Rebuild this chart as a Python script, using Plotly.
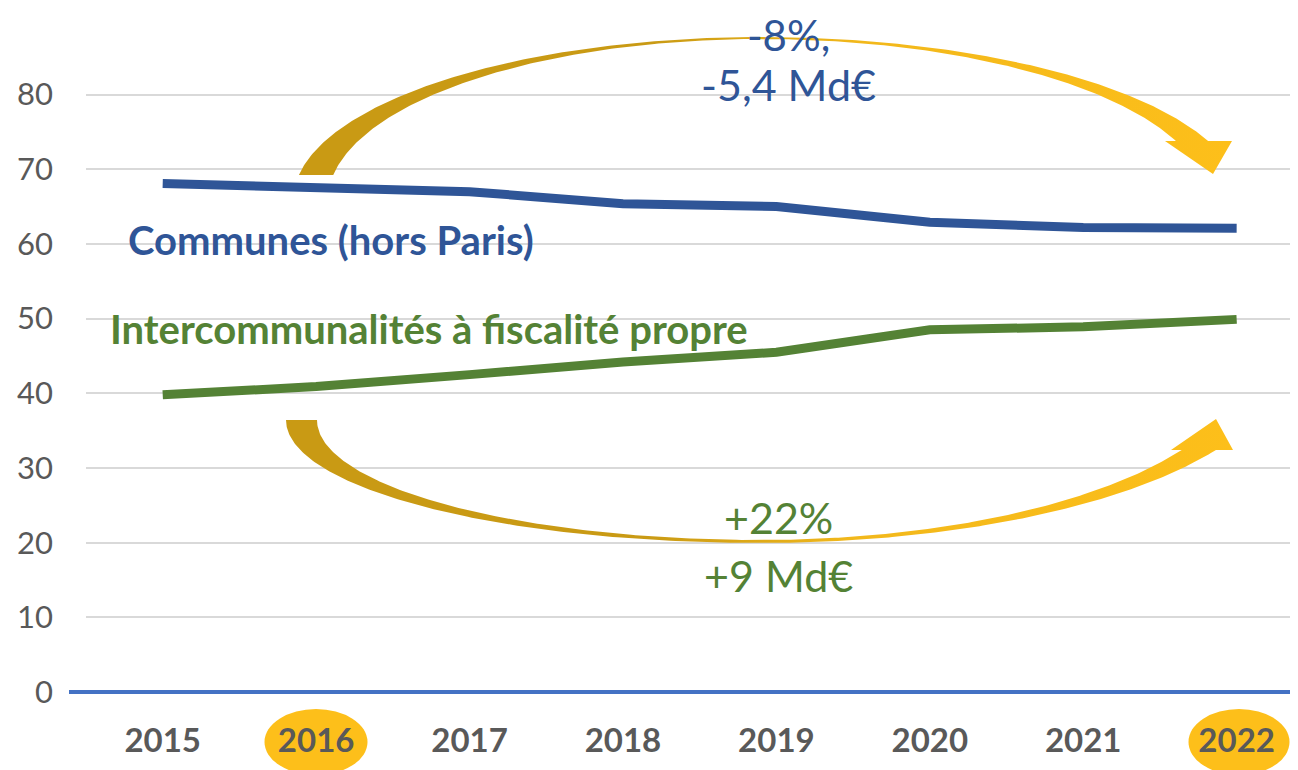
import numpy as np
import plotly.graph_objects as go

# ---- data ----
years = [2015, 2016, 2017, 2018, 2019, 2020, 2021, 2022]
year_labels = ["2015", "2016", "2017", "2018", "2019", "2020", "2021", "2022"]
communes = [68.1, 67.6, 67.0, 65.4, 65.0, 62.9, 62.2, 62.1]
interco = [39.8, 40.9, 42.5, 44.2, 45.5, 48.5, 48.9, 49.9]
y_ticks = [0, 10, 20, 30, 40, 50, 60, 70, 80]
highlight_years = ["2016", "2022"]

# ---- layout geometry ----
# the page places the figure 8px from the top-left corner of the window
OFF = 8
W, H = 1298 - OFF, 770 - OFF
L, R, T, B = 78, 0, 0, 78
PW, PH = W - L - R, H - T - B
SCR_L = OFF + L            # plot-area left edge, window pixels
SCR_B = OFF + T + PH       # plot-area bottom edge, window pixels
X0 = 2014.5
XPX = 153.42               # px per year
X1 = X0 + PW / XPX
YPX = 7.4675               # px per unit
Y1 = PH / YPX

BLUE = "#2F5597"
GREEN = "#548235"
GREY = "#595959"
GOLD_D = "#C99A14"
GOLD_L = "#FDBF1A"


def px2d(px, py):
    return X0 + (np.asarray(px) - SCR_L) / XPX, (SCR_B - np.asarray(py)) / YPX


def px2paper(px, py):
    return (px - SCR_L) / PW, (SCR_B - py) / PH


def top_arrow():
    cx = 760
    s0 = (200 - 175) / 163
    tL = np.linspace(np.pi - np.arcsin(s0), np.pi / 2, 150)
    oxL = cx + 466.6 * np.cos(tL); oyL = 200 - 163 * np.sin(tL)
    se = (200 - 141) / 163
    tR = np.linspace(np.pi / 2, np.arcsin(se), 150)
    oxR = cx + 480.7 * np.cos(tR); oyR = 200 - 163 * np.sin(tR)
    se_i = (200 - 141) / 161
    tRi = np.linspace(np.arcsin(se_i), np.pi / 2, 150)
    ixR = cx + 447.0 * np.cos(tRi); iyR = 200 - 161 * np.sin(tRi)
    s0_i = (200 - 175) / 161
    tLi = np.linspace(np.pi / 2, np.pi - np.arcsin(s0_i), 150)
    ixL = cx + 432.0 * np.cos(tLi); iyL = 200 - 161 * np.sin(tLi)
    xs = np.concatenate([oxL, oxR, [1232, 1213, 1165], ixR, ixL, [oxL[0]]])
    ys = np.concatenate([oyL, oyR, [141, 174, 141], iyR, iyL, [oyL[0]]])
    return px2d(xs, ys)


def bottom_arrow():
    cx = 760
    tL_o = np.linspace(np.pi, np.pi / 2, 150)
    oxL = cx + 474.0 * np.cos(tL_o); oyL = 420 + 123 * np.sin(tL_o)
    te_o = np.arcsin((450 - 360) / 183)
    tR_o = np.linspace(np.pi / 2, te_o, 150)
    oxR = cx + 523.7 * np.cos(tR_o); oyR = 360 + 183 * np.sin(tR_o)
    te_i = np.arcsin((450 - 360) / 180)
    tR_i = np.linspace(te_i, np.pi / 2, 150)
    ixR = cx + 487.0 * np.cos(tR_i); iyR = 360 + 180 * np.sin(tR_i)
    tL_i = np.linspace(np.pi / 2, np.pi, 150)
    ixL = cx + 443.0 * np.cos(tL_i); iyL = 420 + 120 * np.sin(tL_i)
    xs = np.concatenate([oxL, oxR, [1233, 1216, 1171], ixR, ixL, [oxL[0]]])
    ys = np.concatenate([oyL, oyR, [450, 419, 450], iyR, iyL, [oyL[0]]])
    return px2d(xs, ys)


fig = go.Figure()

grad = dict(type="horizontal",
            colorscale=[[0, GOLD_D], [0.38, GOLD_D], [0.6, "#F2B81B"], [1, GOLD_L]])

for ax_, ay_ in (top_arrow(), bottom_arrow()):
    fig.add_trace(go.Scatter(x=ax_, y=ay_, mode="lines", fill="toself",
                             line=dict(width=0), fillgradient=grad,
                             hoverinfo="skip", showlegend=False))

# data lines
fig.add_trace(go.Scatter(x=years, y=communes, mode="lines",
                         line=dict(color=BLUE, width=9),
                         name="Communes (hors Paris)", showlegend=False))
fig.add_trace(go.Scatter(x=years, y=interco, mode="lines",
                         line=dict(color=GREEN, width=9),
                         name="Intercommunalités à fiscalité propre", showlegend=False))

shapes = []
x_a, _ = px2paper(69, 0)
shapes.append(dict(type="line", xref="paper", yref="paper", x0=x_a, x1=1, y0=0, y1=0,
                   line=dict(color="#4472C4", width=4), layer="above"))
for lab, (cxp, rx) in zip(highlight_years, [(316, 51.5), (1239, 50.5)]):
    xa, ya = px2paper(cxp - rx, 742 - 33)
    xb, yb = px2paper(cxp + rx, 742 + 33)
    shapes.append(dict(type="circle", xref="paper", yref="paper",
                       x0=xa, x1=xb, y0=yb, y1=ya,
                       fillcolor=GOLD_L, line=dict(width=0), layer="below"))

annotations = []
def txt(text, px, py, color, size, bold=False, xanchor="center", yanchor="middle"):
    xp, yp = px2paper(px, py)
    annotations.append(dict(text=text, x=xp, y=yp, xref="paper", yref="paper",
                            xanchor=xanchor, yanchor=yanchor, showarrow=False,
                            borderpad=0,
                            font=dict(family="Lato", size=size, color=color,
                                      weight="bold" if bold else "normal")))

txt("Communes (hors Paris)", 127, 240, BLUE, 40, bold=True, xanchor="left")
txt("Intercommunalités à fiscalité propre", 109, 329, GREEN, 40, bold=True, xanchor="left")
txt("-8%,", 788, OFF + 1, BLUE, 42, yanchor="top")
txt("-5,4 Md€", 788, 84, BLUE, 43)
txt("+22%", 778, 517, GREEN, 43)
txt("+9 Md€", 778, 575, GREEN, 43)

fig.update_layout(
    width=W, height=H,
    margin=dict(l=L, r=R, t=T, b=B),
    paper_bgcolor="white", plot_bgcolor="white",
    shapes=shapes, annotations=annotations,
    xaxis=dict(range=[X0, X1], tickvals=years, ticktext=year_labels,
               showgrid=False, zeroline=False, showline=False, ticks="",
               tickfont=dict(family="Lato", size=33, color=GREY, weight="bold"),
               ticklabelstandoff=26, fixedrange=True),
    yaxis=dict(range=[0, Y1], tickvals=y_ticks, showgrid=True,
               gridcolor="#D9D9D9", gridwidth=2, zeroline=False, showline=False,
               ticks="", tickfont=dict(family="Lato", size=31, color=GREY),
               ticklabelstandoff=32, fixedrange=True),
)

fig.write_html("out.html")
